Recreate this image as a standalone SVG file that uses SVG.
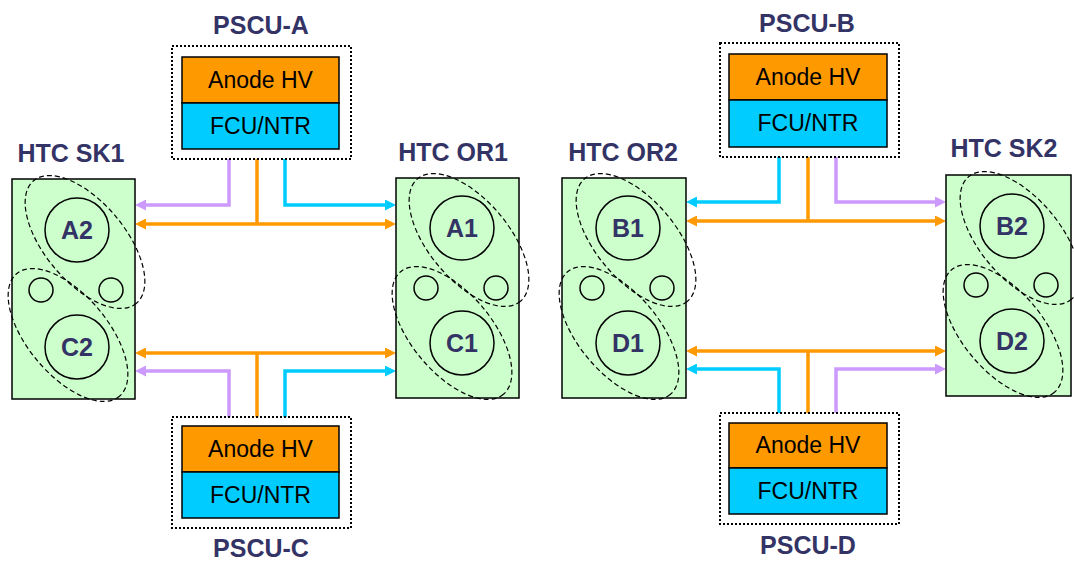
<svg xmlns="http://www.w3.org/2000/svg" width="1074" height="561" viewBox="0 0 1074 561">
<defs>
<marker id="mo" markerUnits="userSpaceOnUse" markerWidth="11" markerHeight="11" refX="1" refY="5.5" orient="auto-start-reverse"><path d="M0,0 L11,5.5 L0,11 z" fill="#FF9900"/></marker>
<marker id="mc" markerUnits="userSpaceOnUse" markerWidth="11" markerHeight="11" refX="1" refY="5.5" orient="auto-start-reverse"><path d="M0,0 L11,5.5 L0,11 z" fill="#00CCFF"/></marker>
<marker id="mp" markerUnits="userSpaceOnUse" markerWidth="11" markerHeight="11" refX="1" refY="5.5" orient="auto-start-reverse"><path d="M0,0 L11,5.5 L0,11 z" fill="#CC99FF"/></marker>
<style>
.title{font-family:"Liberation Sans",Arial,sans-serif;font-weight:bold;font-size:25px;fill:#333366;text-anchor:middle}
.lbl{font-family:"Liberation Sans",Arial,sans-serif;font-weight:bold;font-size:25px;fill:#333366;text-anchor:middle}
.unit{font-family:"Liberation Sans",Arial,sans-serif;font-size:23px;fill:#000;text-anchor:middle}
.htc{fill:#CCFFCC;stroke:#000;stroke-width:1.5}
.big{fill:none;stroke:#000;stroke-width:1.5}
.ell{fill:none;stroke:#000;stroke-width:1.2;stroke-dasharray:5 3}
.dot{fill:#fff;stroke:#000;stroke-width:2;stroke-dasharray:2 2}
.an{fill:#FF9900;stroke:#000;stroke-width:1.5}
.fc{fill:#00CCFF;stroke:#000;stroke-width:1.5}
.co{fill:none;stroke:#FF9900;stroke-width:3.5}
.cc{fill:none;stroke:#00CCFF;stroke-width:3.5}
.cp{fill:none;stroke:#CC99FF;stroke-width:3.5}
</style>
</defs>
<rect width="1074" height="561" fill="#fff"/>

<g id="connectors">
<path class="cp" d="M229,159 V205 H145" marker-end="url(#mp)"/>
<path class="co" d="M145,224 H386" marker-start="url(#mo)" marker-end="url(#mo)"/>
<path class="co" d="M257,159 V224"/>
<path class="cc" d="M285,159 V205 H386" marker-end="url(#mc)"/>

<path class="cp" d="M229,417 V371 H145" marker-end="url(#mp)"/>
<path class="co" d="M145,353 H386" marker-start="url(#mo)" marker-end="url(#mo)"/>
<path class="co" d="M257,417 V353"/>
<path class="cc" d="M285,417 V371 H386" marker-end="url(#mc)"/>

<path class="cc" d="M779,157 V202 H696" marker-end="url(#mc)"/>
<path class="co" d="M696,221 H936" marker-start="url(#mo)" marker-end="url(#mo)"/>
<path class="co" d="M808,157 V221"/>
<path class="cp" d="M836,157 V202 H936" marker-end="url(#mp)"/>

<path class="cc" d="M779,413 V369 H696" marker-end="url(#mc)"/>
<path class="co" d="M696,351 H936" marker-start="url(#mo)" marker-end="url(#mo)"/>
<path class="co" d="M808,413 V351"/>
<path class="cp" d="M836,413 V369 H936" marker-end="url(#mp)"/>
</g>

<g id="htc-sk1">
<text class="title" x="71" y="162">HTC SK1</text>
<rect class="htc" x="12" y="179" width="123" height="220"/>
<circle class="big" cx="77" cy="230" r="32"/>
<circle class="big" cx="77" cy="347" r="32"/>
<circle class="big" cx="41" cy="290" r="12"/>
<circle class="big" cx="111" cy="290" r="12"/>
<ellipse class="ell" cx="85" cy="242" rx="80" ry="40" transform="rotate(50 85 242)"/>
<ellipse class="ell" cx="68" cy="335" rx="80" ry="40" transform="rotate(50 68 335)"/>
<text class="lbl" x="77" y="239">A2</text>
<text class="lbl" x="77" y="356">C2</text>
</g>

<g id="htc-or1">
<text class="title" x="453" y="161">HTC OR1</text>
<rect class="htc" x="396" y="178" width="123" height="220"/>
<circle class="big" cx="462" cy="228" r="32"/>
<circle class="big" cx="462" cy="343" r="32"/>
<circle class="big" cx="426" cy="288" r="12"/>
<circle class="big" cx="496" cy="288" r="12"/>
<ellipse class="ell" cx="469" cy="240" rx="80" ry="40" transform="rotate(50 469 240)"/>
<ellipse class="ell" cx="452" cy="333" rx="80" ry="40" transform="rotate(50 452 333)"/>
<text class="lbl" x="462" y="237">A1</text>
<text class="lbl" x="462" y="352">C1</text>
</g>

<g id="htc-or2">
<text class="title" x="623" y="161">HTC OR2</text>
<rect class="htc" x="562" y="178" width="124" height="220"/>
<circle class="big" cx="628" cy="228" r="32"/>
<circle class="big" cx="628" cy="343" r="32"/>
<circle class="big" cx="592" cy="288" r="12"/>
<circle class="big" cx="662" cy="288" r="12"/>
<ellipse class="ell" cx="636" cy="240" rx="80" ry="40" transform="rotate(50 636 240)"/>
<ellipse class="ell" cx="619" cy="333" rx="80" ry="40" transform="rotate(50 619 333)"/>
<text class="lbl" x="628" y="237">B1</text>
<text class="lbl" x="628" y="352">D1</text>
</g>

<g id="htc-sk2">
<text class="title" x="1004" y="157">HTC SK2</text>
<rect class="htc" x="946" y="175" width="125" height="221"/>
<circle class="big" cx="1012" cy="226" r="32"/>
<circle class="big" cx="1012" cy="341" r="32"/>
<circle class="big" cx="976" cy="285" r="12"/>
<circle class="big" cx="1046" cy="285" r="12"/>
<ellipse class="ell" cx="1020" cy="238" rx="80" ry="40" transform="rotate(50 1020 238)"/>
<ellipse class="ell" cx="1003" cy="331" rx="80" ry="40" transform="rotate(50 1003 331)"/>
<text class="lbl" x="1012" y="235">B2</text>
<text class="lbl" x="1012" y="350">D2</text>
</g>

<g id="pscu-a">
<text class="title" x="261" y="34">PSCU-A</text>
<rect class="dot" x="172" y="46" width="179" height="113"/>
<rect class="an" x="182" y="57" width="157" height="46"/>
<rect class="fc" x="182" y="103" width="157" height="46"/>
<text class="unit" x="260.5" y="88">Anode HV</text>
<text class="unit" x="260.5" y="134">FCU/NTR</text>
</g>

<g id="pscu-c">
<rect class="dot" x="172" y="417" width="179" height="111"/>
<rect class="an" x="182" y="426" width="157" height="46"/>
<rect class="fc" x="182" y="472" width="157" height="46"/>
<text class="unit" x="260.5" y="457">Anode HV</text>
<text class="unit" x="260.5" y="503">FCU/NTR</text>
<text class="title" x="261" y="557">PSCU-C</text>
</g>

<g id="pscu-b">
<text class="title" x="807" y="32">PSCU-B</text>
<rect class="dot" x="720" y="43" width="179" height="114"/>
<rect class="an" x="729" y="54" width="158" height="46"/>
<rect class="fc" x="729" y="100" width="158" height="47"/>
<text class="unit" x="808" y="85">Anode HV</text>
<text class="unit" x="808" y="131">FCU/NTR</text>
</g>

<g id="pscu-d">
<rect class="dot" x="720" y="413" width="179" height="111"/>
<rect class="an" x="729" y="423" width="158" height="45"/>
<rect class="fc" x="729" y="468" width="158" height="46"/>
<text class="unit" x="808" y="453">Anode HV</text>
<text class="unit" x="808" y="499">FCU/NTR</text>
<text class="title" x="808" y="554">PSCU-D</text>
</g>
</svg>
